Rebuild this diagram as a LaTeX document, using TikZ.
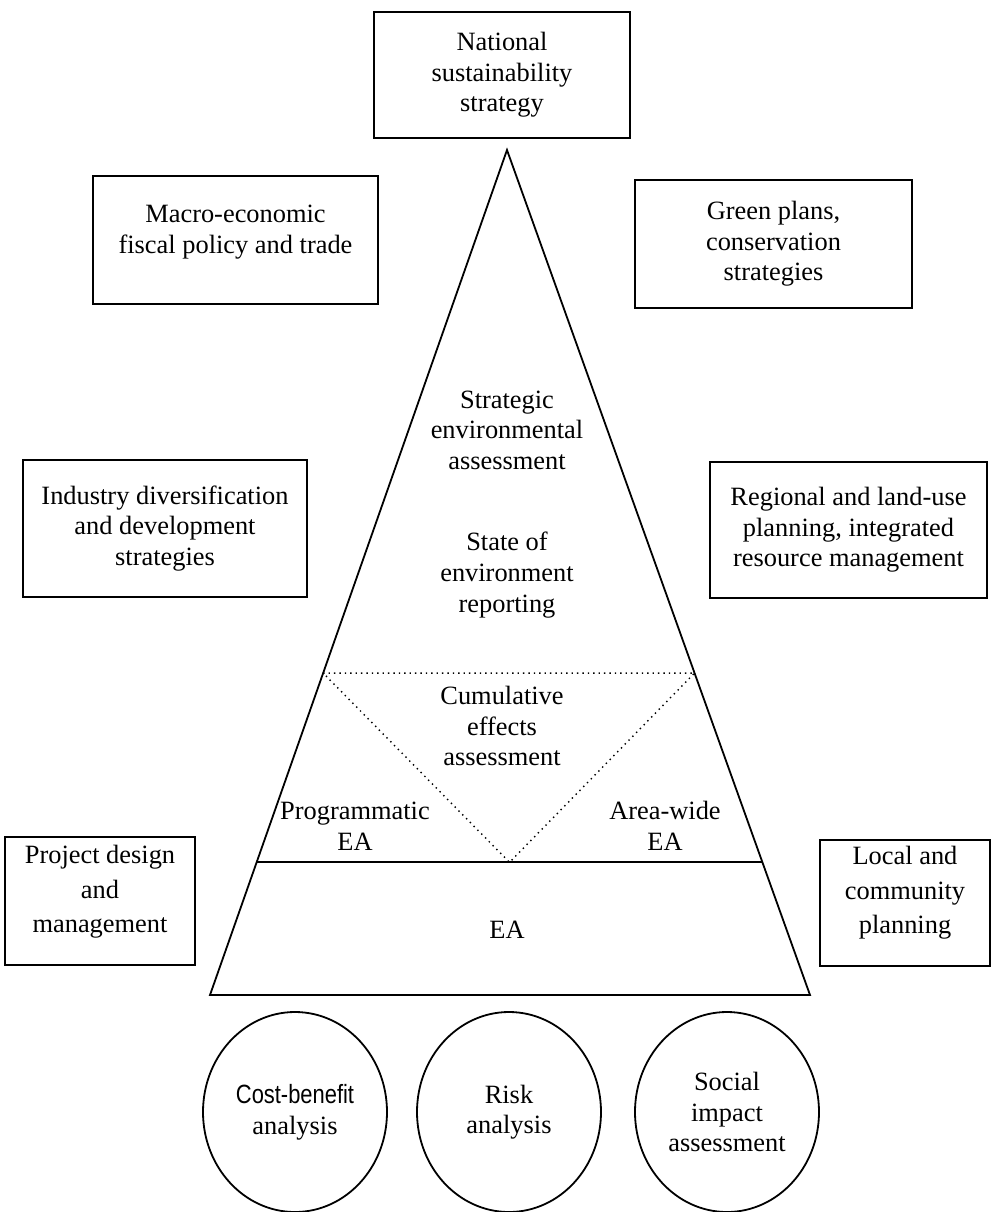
\documentclass[tikz,border=0pt]{standalone}
\usepackage{fontspec}
\setmainfont{Liberation Serif}
\newfontfamily\narrowsans[FakeStretch=0.83]{Liberation Sans}
\usetikzlibrary{calc,shapes.geometric}

\tikzset{
  box/.style={draw,line width=0.9pt,align=center,inner sep=0pt},
  txt/.style={align=center,inner sep=0pt},
  bubble/.style={draw,ellipse,line width=0.9pt,align=center,inner sep=0pt,
    minimum width=92pt,minimum height=100pt},
}

\begin{document}
\begin{tikzpicture}[x=0.5pt,y=-0.5pt,font=\fontsize{13.2}{15.3}\selectfont]
\useasboundingbox (0,0) rectangle (997,1212);
% boxes round the pyramid
\node[box,minimum width=128pt,minimum height=63pt] (natl) at (502,75) {National\\sustainability\\strategy};
\node[box,minimum width=142.5pt,minimum height=64pt] (macro) at (235.5,240) {};
\node[txt] (macrotxt) at (235.5,232) {Macro-economic\\fiscal policy and trade};
\node[box,minimum width=138.5pt,minimum height=64pt] (green) at (773.5,244) {Green plans,\\conservation\\strategies};
\node[box,minimum width=142pt,minimum height=68.5pt] (industry) at (165,528.5) {Industry diversification\\and development\\strategies};
\node[box,minimum width=138.5pt,minimum height=68pt] (regional) at (848.5,530) {Regional and land-use\\planning, integrated\\resource management};
\node[box,minimum width=95pt,minimum height=64pt] (project) at (100,901) {};
\node[txt] (projecttxt) at (100,892) {Project design\\[2pt]and\\[2pt]management};
\node[box,minimum width=85pt,minimum height=63pt] (local) at (905,903) {};
\node[txt] (localtxt) at (905,893) {Local and\\[2pt]community\\[2pt]planning};

% pyramid
\coordinate (apex) at (507,150);
\coordinate (bl) at (210,995);
\coordinate (br) at (810,995);
\draw[line width=0.9pt] (apex) -- (bl) -- (br) -- cycle;
\coordinate (eal) at ($(apex)!0.843!(bl)$);
\coordinate (ear) at ($(apex)!0.843!(br)$);
\draw[line width=0.9pt] (eal) -- (ear);
\coordinate (cel) at ($(apex)!0.619!(bl)$);
\coordinate (cer) at ($(apex)!0.619!(br)$);
\coordinate (cev) at ($(eal)!0.5!(ear)$);
\draw[dotted,line width=0.7pt] (cel) -- (cer) -- (cev) -- cycle;

\node[txt] (sea) at (507,430) {Strategic\\environmental\\assessment};
\node[txt] (soe) at (507,575) {State of\\environment\\reporting};
\node[txt] (cea) at (502,726) {Cumulative\\effects\\assessment};
\node[txt] (prog) at (355,826) {Programmatic\\EA};
\node[txt] (area) at (665,826) {Area-wide\\EA};
\node[txt] (ea) at (507,930) {EA};

% tools below
\node[bubble] (cba) at (295,1112) {{\narrowsans Cost-benefit}\\analysis};
\node[bubble] (risk) at (509,1112) {Risk\\analysis};
\node[bubble] (sia) at (727,1112) {Social\\impact\\assessment};
\end{tikzpicture}
\end{document}
